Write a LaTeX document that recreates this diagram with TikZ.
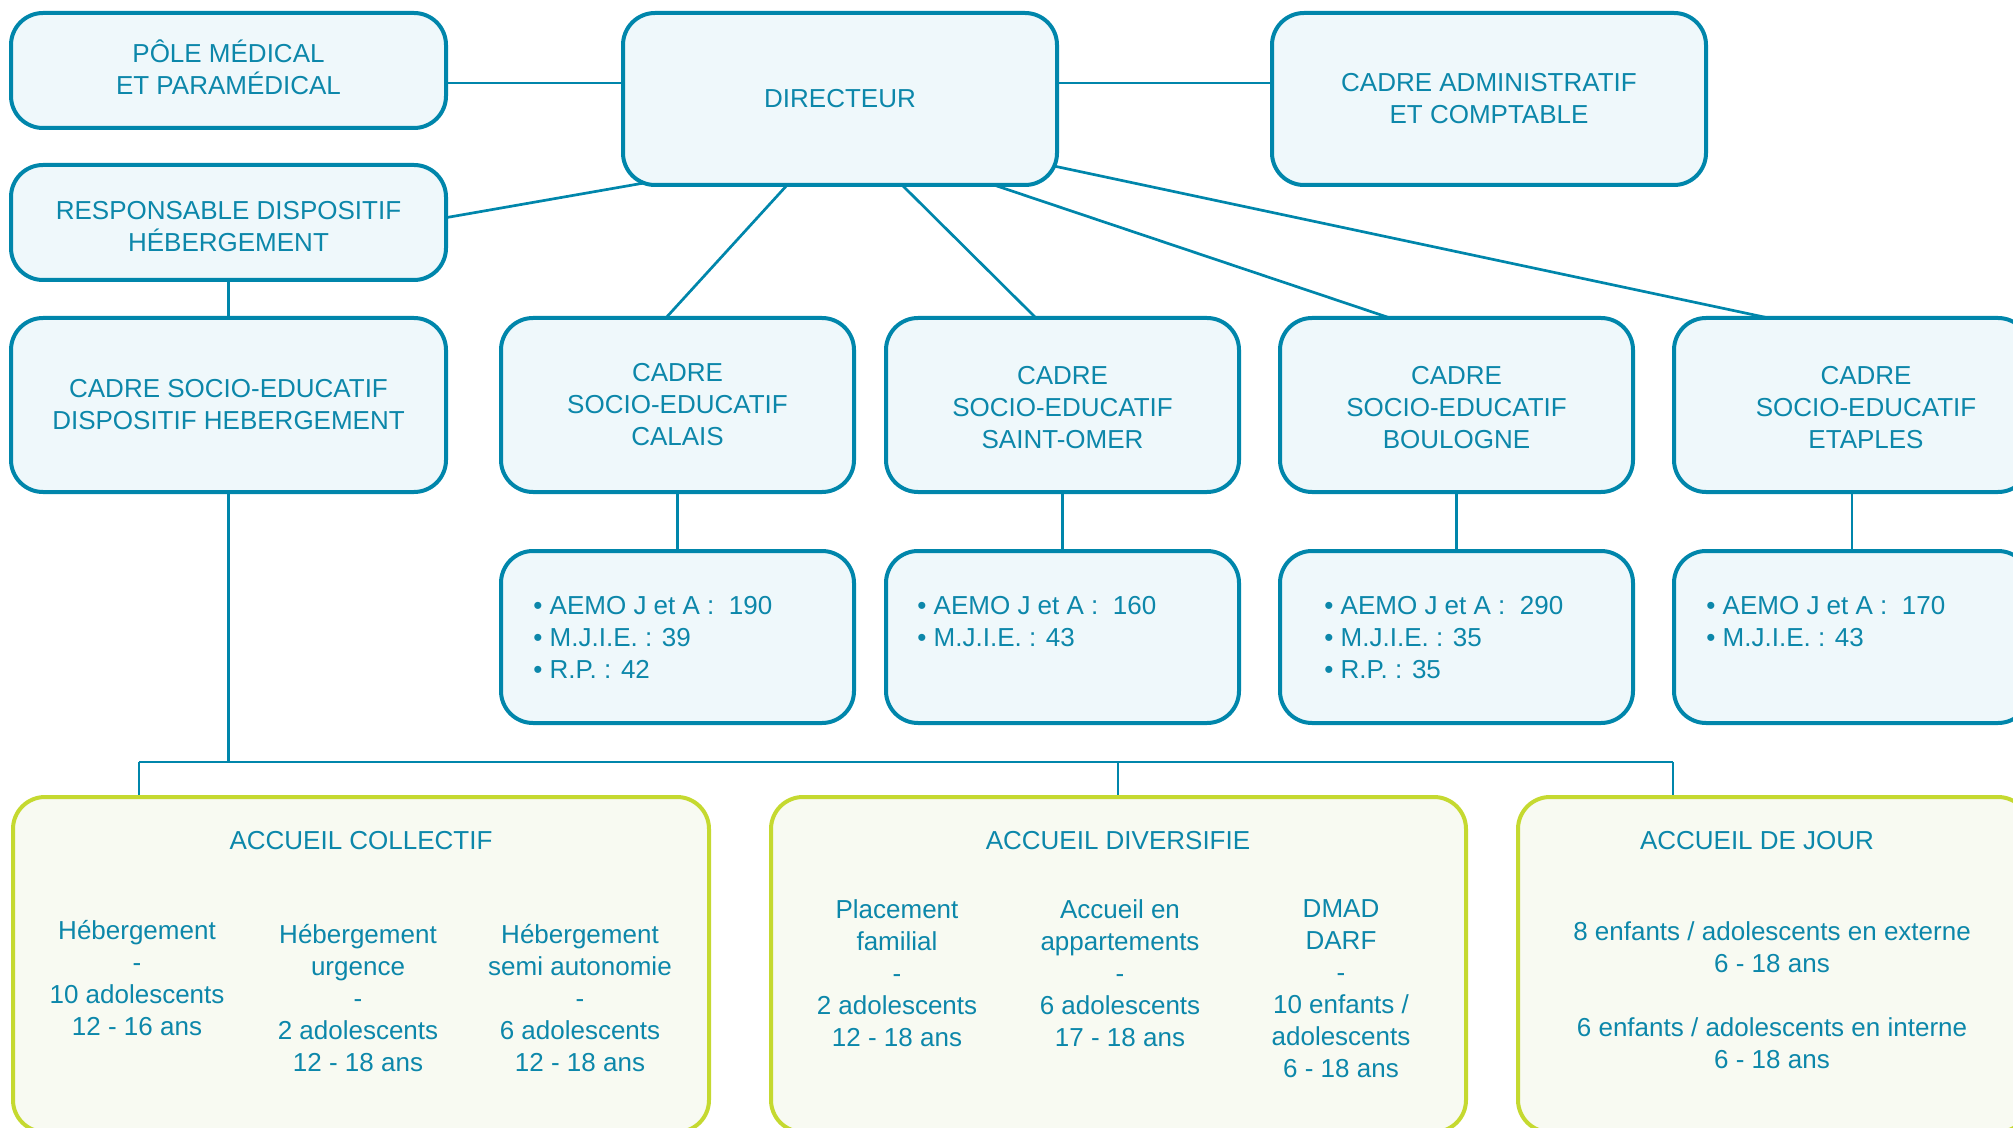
\documentclass[tikz,border=0pt]{standalone}
\usepackage{fontspec}
\setmainfont{Liberation Sans}
\usetikzlibrary{calc,backgrounds}
\definecolor{orgline}{HTML}{0086AB}
\definecolor{orgtext}{HTML}{0C87AA}
\definecolor{orgfill}{HTML}{EFF8FB}
\definecolor{grline}{HTML}{C5D930}
\definecolor{grfill}{HTML}{F8FAF2}
\begin{document}
\begin{tikzpicture}[x=0.5pt,y=-0.5pt,
  basefont/.style={font=\fontsize{13}{16}\selectfont, text=orgtext},
  bluebox/.style={basefont, draw=orgline, fill=orgfill, line width=2pt,
    rounded corners=16pt, inner sep=0pt, align=center},
  greenbox/.style={draw=grline, fill=grfill, line width=2pt,
    rounded corners=16pt, inner sep=0pt},
  txt/.style={basefont, inner sep=0pt, align=center},
  listtxt/.style={basefont, inner sep=0pt, align=left, anchor=north west},
  link/.style={draw=orgline, line width=1.35pt}]

\useasboundingbox (0,0) rectangle (2013,1128);
\clip (0,0) rectangle (2013,1128);

% --- top management row
\node[bluebox, minimum width=217.5pt, minimum height=57.5pt] (pole) at (228.5,70.5) {};
\node[txt] (poleL) at (228.5,67) {PÔLE MÉDICAL\\ET PARAMÉDICAL};
\node[bluebox, minimum width=217pt, minimum height=86pt] (dir) at (840,99)
  {DIRECTEUR};
\node[bluebox, minimum width=217pt, minimum height=86pt] (admin) at (1489,99)
  {CADRE ADMINISTRATIF\\ET COMPTABLE};
\node[bluebox, minimum width=217.5pt, minimum height=57.5pt] (resp) at (228.5,222.5) {};
\node[txt] (respL) at (228.5,227) {RESPONSABLE DISPOSITIF\\HÉBERGEMENT};

% --- socio-educational managers
\node[bluebox, minimum width=217.5pt, minimum height=87pt] (dispheb) at (228.5,405)
  {CADRE SOCIO-EDUCATIF\\DISPOSITIF HEBERGEMENT};
\node[bluebox, minimum width=176.5pt, minimum height=87pt] (calais) at (677.5,405)
  {CADRE\\SOCIO-EDUCATIF\\CALAIS};
\node[bluebox, minimum width=176.5pt, minimum height=87pt] (stomer) at (1062.5,405) {};
\node[txt] (stomerL) at (1062.5,408) {CADRE\\SOCIO-EDUCATIF\\SAINT-OMER};
\node[bluebox, minimum width=176.5pt, minimum height=87pt] (boul) at (1456.5,405) {};
\node[txt] (boulL) at (1456.5,408) {CADRE\\SOCIO-EDUCATIF\\BOULOGNE};
\node[bluebox, minimum width=178pt, minimum height=87pt] (etap) at (1852,405) {};
\node[txt] (etapL) at (1866,408) {CADRE\\SOCIO-EDUCATIF\\ETAPLES};

% --- activity figures
\node[bluebox, minimum width=176.5pt, minimum height=86pt] (calaisS) at (677.5,637) {};
\node[bluebox, minimum width=176.5pt, minimum height=86pt] (stomerS) at (1062.5,637) {};
\node[bluebox, minimum width=176.5pt, minimum height=86pt] (boulS) at (1456.5,637) {};
\node[bluebox, minimum width=178pt, minimum height=86pt] (etapS) at (1852,637) {};
\node[listtxt] (calaisT) at (533,596)
  {• AEMO J et A :\ \ 190\\• M.J.I.E. : 39\\• R.P. : 42};
\node[listtxt] (stomerT) at (917,596)
  {• AEMO J et A :\ \ 160\\• M.J.I.E. : 43};
\node[listtxt] (boulT) at (1324,596)
  {• AEMO J et A :\ \ 290\\• M.J.I.E. : 35\\• R.P. : 35};
\node[listtxt] (etapT) at (1706,596)
  {• AEMO J et A :\ \ 170\\• M.J.I.E. : 43};

% --- accommodation services
\node[greenbox, minimum width=348pt, minimum height=167.5pt] (coll) at (361,964.5) {};
\node[greenbox, minimum width=347.5pt, minimum height=167.5pt] (div) at (1118.5,964.5) {};
\node[greenbox, minimum width=256pt, minimum height=167.5pt] (jour) at (1774,964.5) {};

\node[txt] (collT) at (361,841) {ACCUEIL COLLECTIF};
\node[txt] (collA) at (137,978.5) {Hébergement\\-\\10 adolescents\\12 - 16 ans};
\node[txt] (collB) at (358,998.5) {Hébergement\\urgence\\-\\2 adolescents\\12 - 18 ans};
\node[txt] (collC) at (580,998.5) {Hébergement\\semi autonomie\\-\\6 adolescents\\12 - 18 ans};

\node[txt] (divT) at (1118,841) {ACCUEIL DIVERSIFIE};
\node[txt] (divA) at (897,973) {Placement\\familial\\-\\2 adolescents\\12 - 18 ans};
\node[txt] (divB) at (1120,973) {Accueil en\\appartements\\-\\6 adolescents\\17 - 18 ans};
\node[txt] (divC) at (1341,988.5) {DMAD\\DARF\\-\\10 enfants /\\adolescents\\6 - 18 ans};

\node[txt] (jourT) at (1757,841) {ACCUEIL DE JOUR};
\node[txt] (jourA) at (1772,995)
  {8 enfants / adolescents en externe\\6 - 18 ans\\[16pt]6 enfants / adolescents en interne\\6 - 18 ans};

% --- connectors, drawn behind the boxes
\coordinate (busL) at (139,762);
\coordinate (busM) at (1118,762);
\coordinate (busR) at (1673,762);
\begin{pgfonlayer}{background}
  \draw[link] ($(pole.east)+(0,12.5)$) -- ($(dir.west)+(0,-16)$);
  \draw[link] ($(dir.east)+(0,-16)$) -- ($(admin.west)+(0,-16)$);
  \draw[link] ($(resp.east)+(-4,-4.5)$) -- ($(dir.south west)+(23,-4)$);
  \draw[link] ($(dir.south west)+(168,-4)$) -- ($(calais.north)+(-13.5,4)$);
  \draw[link] ($(dir.south west)+(279,-4)$) -- ($(stomer.north)+(-24.5,4)$);
  \draw[link] ($(dir.south west)+(367,-4)$) -- ($(boul.north)+(-60.5,4)$);
  \draw[link] ($(dir.east)+(-10,66)$) -- ($(etap.north)+(-74,4)$);
  \draw[link] (resp.south) -- (dispheb.north);
  \draw[link] (calais.south) -- (calaisS.north);
  \draw[link] (stomer.south) -- (stomerS.north);
  \draw[link] (boul.south) -- (boulS.north);
  \draw[link] (etap.south) -- (etapS.north);
  \draw[link] (dispheb.south) -- (dispheb.south |- busL);
  \draw[link] (busL) -- (busR);
  \draw[link] (busL) -- (busL |- coll.north);
  \draw[link] (busM) -- (busM |- div.north);
  \draw[link] (busR) -- (busR |- jour.north);
\end{pgfonlayer}
\end{tikzpicture}
\end{document}
